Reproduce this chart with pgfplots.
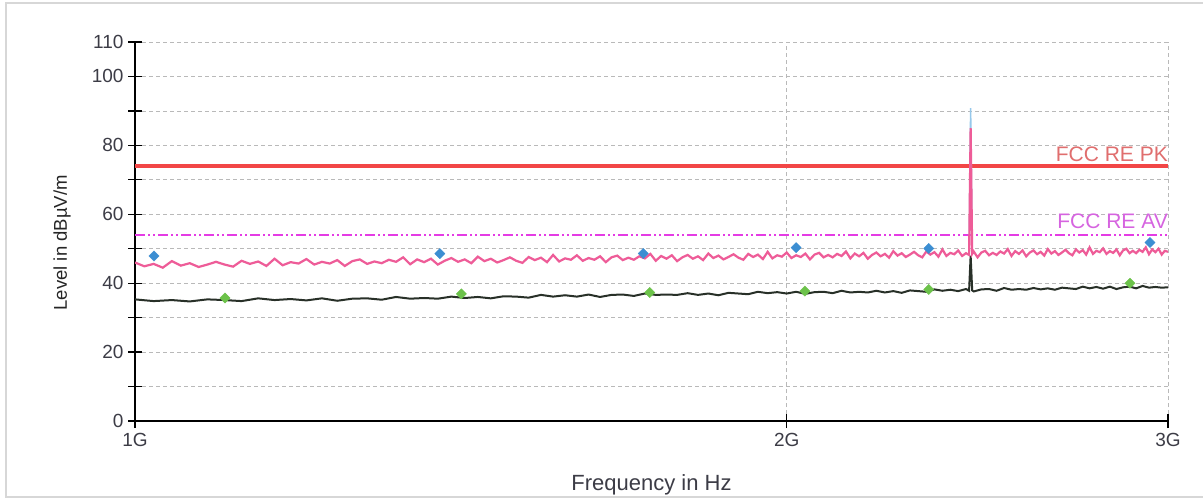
\documentclass[border=0pt]{standalone}
\usepackage{pgfplots}
\pgfplotsset{compat=1.18}
\usepackage{fontspec}
\setmainfont{Liberation Sans}
\definecolor{pinktrace}{RGB}{238,92,152}
\definecolor{blacktrace}{RGB}{40,48,40}
\definecolor{bluemark}{RGB}{60,142,210}
\definecolor{greenmark}{RGB}{108,194,74}
\definecolor{pkline}{RGB}{242,70,70}
\definecolor{avline}{RGB}{228,60,228}
\definecolor{pklabel}{RGB}{224,110,110}
\definecolor{avlabel}{RGB}{214,100,224}
\definecolor{gridgray}{RGB}{185,185,185}
\definecolor{lightblue}{RGB}{150,200,235}
\definecolor{framegray}{RGB}{215,215,215}
\definecolor{ticktext}{RGB}{60,60,70}
\begin{document}
\begin{tikzpicture}[x=1pt,y=1pt]
\useasboundingbox (0,0) rectangle (1203,499);
\fill[white] (0,0) rectangle (1203,499);
\draw[framegray, line width=2pt] (1203,496) -- (6,496) -- (6,2) -- (1203,2);
\begin{axis}[
  at={(135pt,78pt)}, anchor=south west,
  scale only axis, width=1033pt, height=379pt,
  xmode=log, xmin=1, xmax=3, ymin=0, ymax=110,
  axis x line*=bottom, axis y line*=left,
  axis line style={black, line width=1.2pt},
  xtick={1,2,3}, xticklabels={1G,2G,3G},
  minor xtick={}, xminorticks=false,
  ytick={0,10,...,110},
  yticklabels={0,,20,,40,,60,,80,,100,110},
  tick align=center, major tick length=14pt,
  tick style={black, line width=1.2pt},
  xmajorgrids, ymajorgrids,
  grid style={gridgray, line width=0.8pt, dash pattern=on 4pt off 3pt},
  ticklabel style={font=\fontsize{19}{20}\selectfont, text=ticktext},
  /pgf/number format/assume math mode=true,
  xticklabel style={yshift=-2pt},
  yticklabel style={xshift=-1pt},
  xlabel={Frequency in Hz},
  ylabel={Level in dBµV/m},
  xlabel style={font=\fontsize{22}{23}\selectfont, text=ticktext, at={(axis description cs:0.5,-0.169)}, anchor=center},
  ylabel style={font=\fontsize{18.5}{20}\selectfont, text=black!85, at={(axis description cs:-0.0707,0.47)}, anchor=center, rotate=0},
  clip=true,
]
% limit lines
\addplot[pkline, line width=4.5pt] coordinates {(1,74) (3,74)};
\addplot[avline, line width=1.2pt, dash pattern=on 10pt off 3pt on 2pt off 3pt on 2pt off 3pt] coordinates {(1,54) (3,54)};
% light blue peak trace (visible at spike)
\addplot[lightblue, line width=1.5pt] coordinates {(2.428,48.6) (2.432,90.8) (2.436,48.6)};
% black average trace
\addplot[blacktrace, line width=2pt] coordinates {
(1.00,35.3) (1.02,34.8) (1.04,35.1) (1.06,34.7) (1.08,35.3) (1.10,35.1) (1.12,34.8) (1.14,35.6) (1.16,35.1) (1.18,35.4)
(1.20,35.0) (1.22,35.6) (1.24,34.9) (1.26,35.5) (1.28,35.6) (1.30,35.2) (1.32,36.0) (1.34,35.5) (1.36,35.7) (1.38,35.5)
(1.40,36.1) (1.42,35.7) (1.44,36.0) (1.46,35.6) (1.48,36.2) (1.50,36.1) (1.52,35.8) (1.54,36.6) (1.56,36.1) (1.58,36.5)
(1.60,36.1) (1.62,36.7) (1.64,36.0) (1.66,36.6) (1.68,36.7) (1.70,36.3) (1.72,37.0) (1.74,36.6) (1.76,36.7) (1.78,36.6)
(1.80,37.1) (1.82,36.6) (1.84,37.0) (1.86,36.5) (1.88,37.2) (1.90,37.0) (1.92,36.8) (1.94,37.5) (1.96,37.1) (1.98,37.4)
(2.00,37.0) (2.02,37.5) (2.04,36.9) (2.06,37.4) (2.08,37.5) (2.10,37.1) (2.12,37.8) (2.14,37.3) (2.16,37.5) (2.18,37.3)
(2.20,37.8) (2.22,37.3) (2.24,37.7) (2.26,37.2) (2.28,37.9) (2.30,37.7) (2.32,37.5) (2.34,38.2) (2.36,37.8) (2.38,38.1)
(2.40,37.7) (2.42,38.3) (2.428,37.8) (2.432,48.0) (2.436,37.9) (2.44,37.6) (2.46,38.2) (2.48,38.3) (2.50,37.8) (2.52,38.6) (2.54,38.1) (2.56,38.3) (2.58,38.1)
(2.60,38.6) (2.62,38.2) (2.64,38.5) (2.66,38.1) (2.68,38.7) (2.70,38.5) (2.72,38.3) (2.74,39.0) (2.76,38.5) (2.78,38.9)
(2.80,38.4) (2.82,39.0) (2.84,38.3) (2.86,38.8) (2.88,39.0) (2.90,38.5) (2.92,39.2) (2.94,38.7) (2.96,38.9) (2.98,38.7) (3.00,38.8)
};
% pink peak trace
\addplot[pinktrace, line width=2.2pt] coordinates {
(1.00,46.0) (1.01,44.9) (1.02,45.6) (1.03,44.5) (1.04,46.4) (1.05,45.1) (1.06,45.8) (1.07,44.7) (1.08,45.4) (1.09,46.2)
(1.10,45.4) (1.11,44.8) (1.12,46.5) (1.13,45.6) (1.14,46.3) (1.15,45.0) (1.16,47.1) (1.17,45.2) (1.18,46.1) (1.19,45.7)
(1.20,47.0) (1.21,45.4) (1.22,46.2) (1.23,45.7) (1.24,46.7) (1.25,45.0) (1.26,46.4) (1.27,46.9) (1.28,45.6) (1.29,46.3)
(1.30,45.8) (1.31,46.8) (1.32,46.2) (1.33,47.5) (1.34,45.5) (1.35,46.9) (1.36,46.1) (1.37,47.1) (1.38,45.4) (1.39,46.5)
(1.40,47.3) (1.41,46.2) (1.42,46.9) (1.43,45.8) (1.44,47.7) (1.45,46.4) (1.46,47.1) (1.47,46.0) (1.48,46.7) (1.49,47.5)
(1.50,46.5) (1.51,45.9) (1.52,47.6) (1.53,46.7) (1.54,47.4) (1.55,46.1) (1.56,48.2) (1.57,46.3) (1.58,47.2) (1.59,46.8)
(1.60,48.1) (1.61,46.5) (1.62,47.3) (1.63,46.8) (1.64,47.8) (1.65,46.1) (1.66,47.5) (1.67,48.0) (1.68,46.7) (1.69,47.4)
(1.70,46.8) (1.71,47.8) (1.72,47.2) (1.73,48.5) (1.74,46.5) (1.75,47.9) (1.76,47.1) (1.77,48.1) (1.78,46.4) (1.79,47.5)
(1.80,48.2) (1.81,47.1) (1.82,47.8) (1.83,46.7) (1.84,48.6) (1.85,47.3) (1.86,48.0) (1.87,46.9) (1.88,47.6) (1.89,48.4)
(1.90,47.4) (1.91,46.8) (1.92,48.5) (1.93,47.6) (1.94,48.3) (1.95,47.0) (1.96,49.1) (1.97,47.2) (1.98,48.1) (1.99,47.7)
(2.00,48.9) (2.01,47.3) (2.02,48.1) (2.03,47.6) (2.04,48.6) (2.05,46.9) (2.06,48.3) (2.07,48.8) (2.08,47.5) (2.09,48.2)
(2.10,47.5) (2.11,48.5) (2.12,47.9) (2.13,49.2) (2.14,47.2) (2.15,48.6) (2.16,47.8) (2.17,48.8) (2.18,47.1) (2.19,48.2)
(2.20,48.9) (2.21,47.8) (2.22,48.5) (2.23,47.4) (2.24,49.3) (2.25,48.0) (2.26,48.7) (2.27,47.6) (2.28,48.3) (2.29,49.1)
(2.30,48.1) (2.31,47.5) (2.32,49.2) (2.33,48.3) (2.34,49.0) (2.35,47.7) (2.36,49.8) (2.37,47.9) (2.38,48.8) (2.39,48.4)
(2.40,49.5) (2.41,47.9) (2.42,48.7) (2.428,48.2) (2.432,85.0) (2.436,48.5) (2.44,49.2) (2.45,47.5) (2.46,48.9) (2.47,49.4) (2.48,48.1) (2.49,48.8)
(2.50,48.2) (2.51,49.2) (2.52,48.6) (2.53,49.9) (2.54,47.9) (2.55,49.3) (2.56,48.5) (2.57,49.5) (2.58,47.8) (2.59,48.9)
(2.60,49.5) (2.61,48.4) (2.62,49.1) (2.63,48.0) (2.64,49.9) (2.65,48.6) (2.66,49.3) (2.67,48.2) (2.68,48.9) (2.69,49.7)
(2.70,48.7) (2.71,48.1) (2.72,49.8) (2.73,48.9) (2.74,49.6) (2.75,48.3) (2.76,50.4) (2.77,48.5) (2.78,49.4) (2.79,49.0)
(2.80,50.1) (2.81,48.5) (2.82,49.3) (2.83,48.8) (2.84,49.8) (2.85,48.1) (2.86,49.5) (2.87,50.0) (2.88,48.7) (2.89,49.4)
(2.90,48.7) (2.91,49.7) (2.92,49.1) (2.93,50.4) (2.94,48.4) (2.95,49.8) (2.96,49.0) (2.97,50.0) (2.98,48.3) (2.99,49.4) (3.00,49.1)
};
% final measurement markers
\addplot[only marks, mark=square*, mark size=3.6pt, mark options={rotate=45, fill=bluemark, draw=bluemark}] coordinates {
(1.0204,47.9) (1.383,48.6) (1.717,48.6) (2.020,50.3) (2.326,50.1) (2.943,51.8)};
\addplot[only marks, mark=square*, mark size=3.6pt, mark options={rotate=45, fill=greenmark, draw=greenmark}] coordinates {
(1.1004,35.7) (1.415,36.9) (1.729,37.3) (2.039,37.7) (2.326,38.2) (2.881,40.0)};
% limit labels
\node[anchor=base east, inner sep=0pt, text=pklabel, font=\fontsize{21}{22}\selectfont] at (axis cs:3,74) [yshift=5pt] {FCC RE PK};
\node[anchor=base east, inner sep=0pt, text=avlabel, font=\fontsize{21}{22}\selectfont] at (axis cs:3,54) [yshift=6pt] {FCC RE AV};
\end{axis}
\end{tikzpicture}
\end{document}
